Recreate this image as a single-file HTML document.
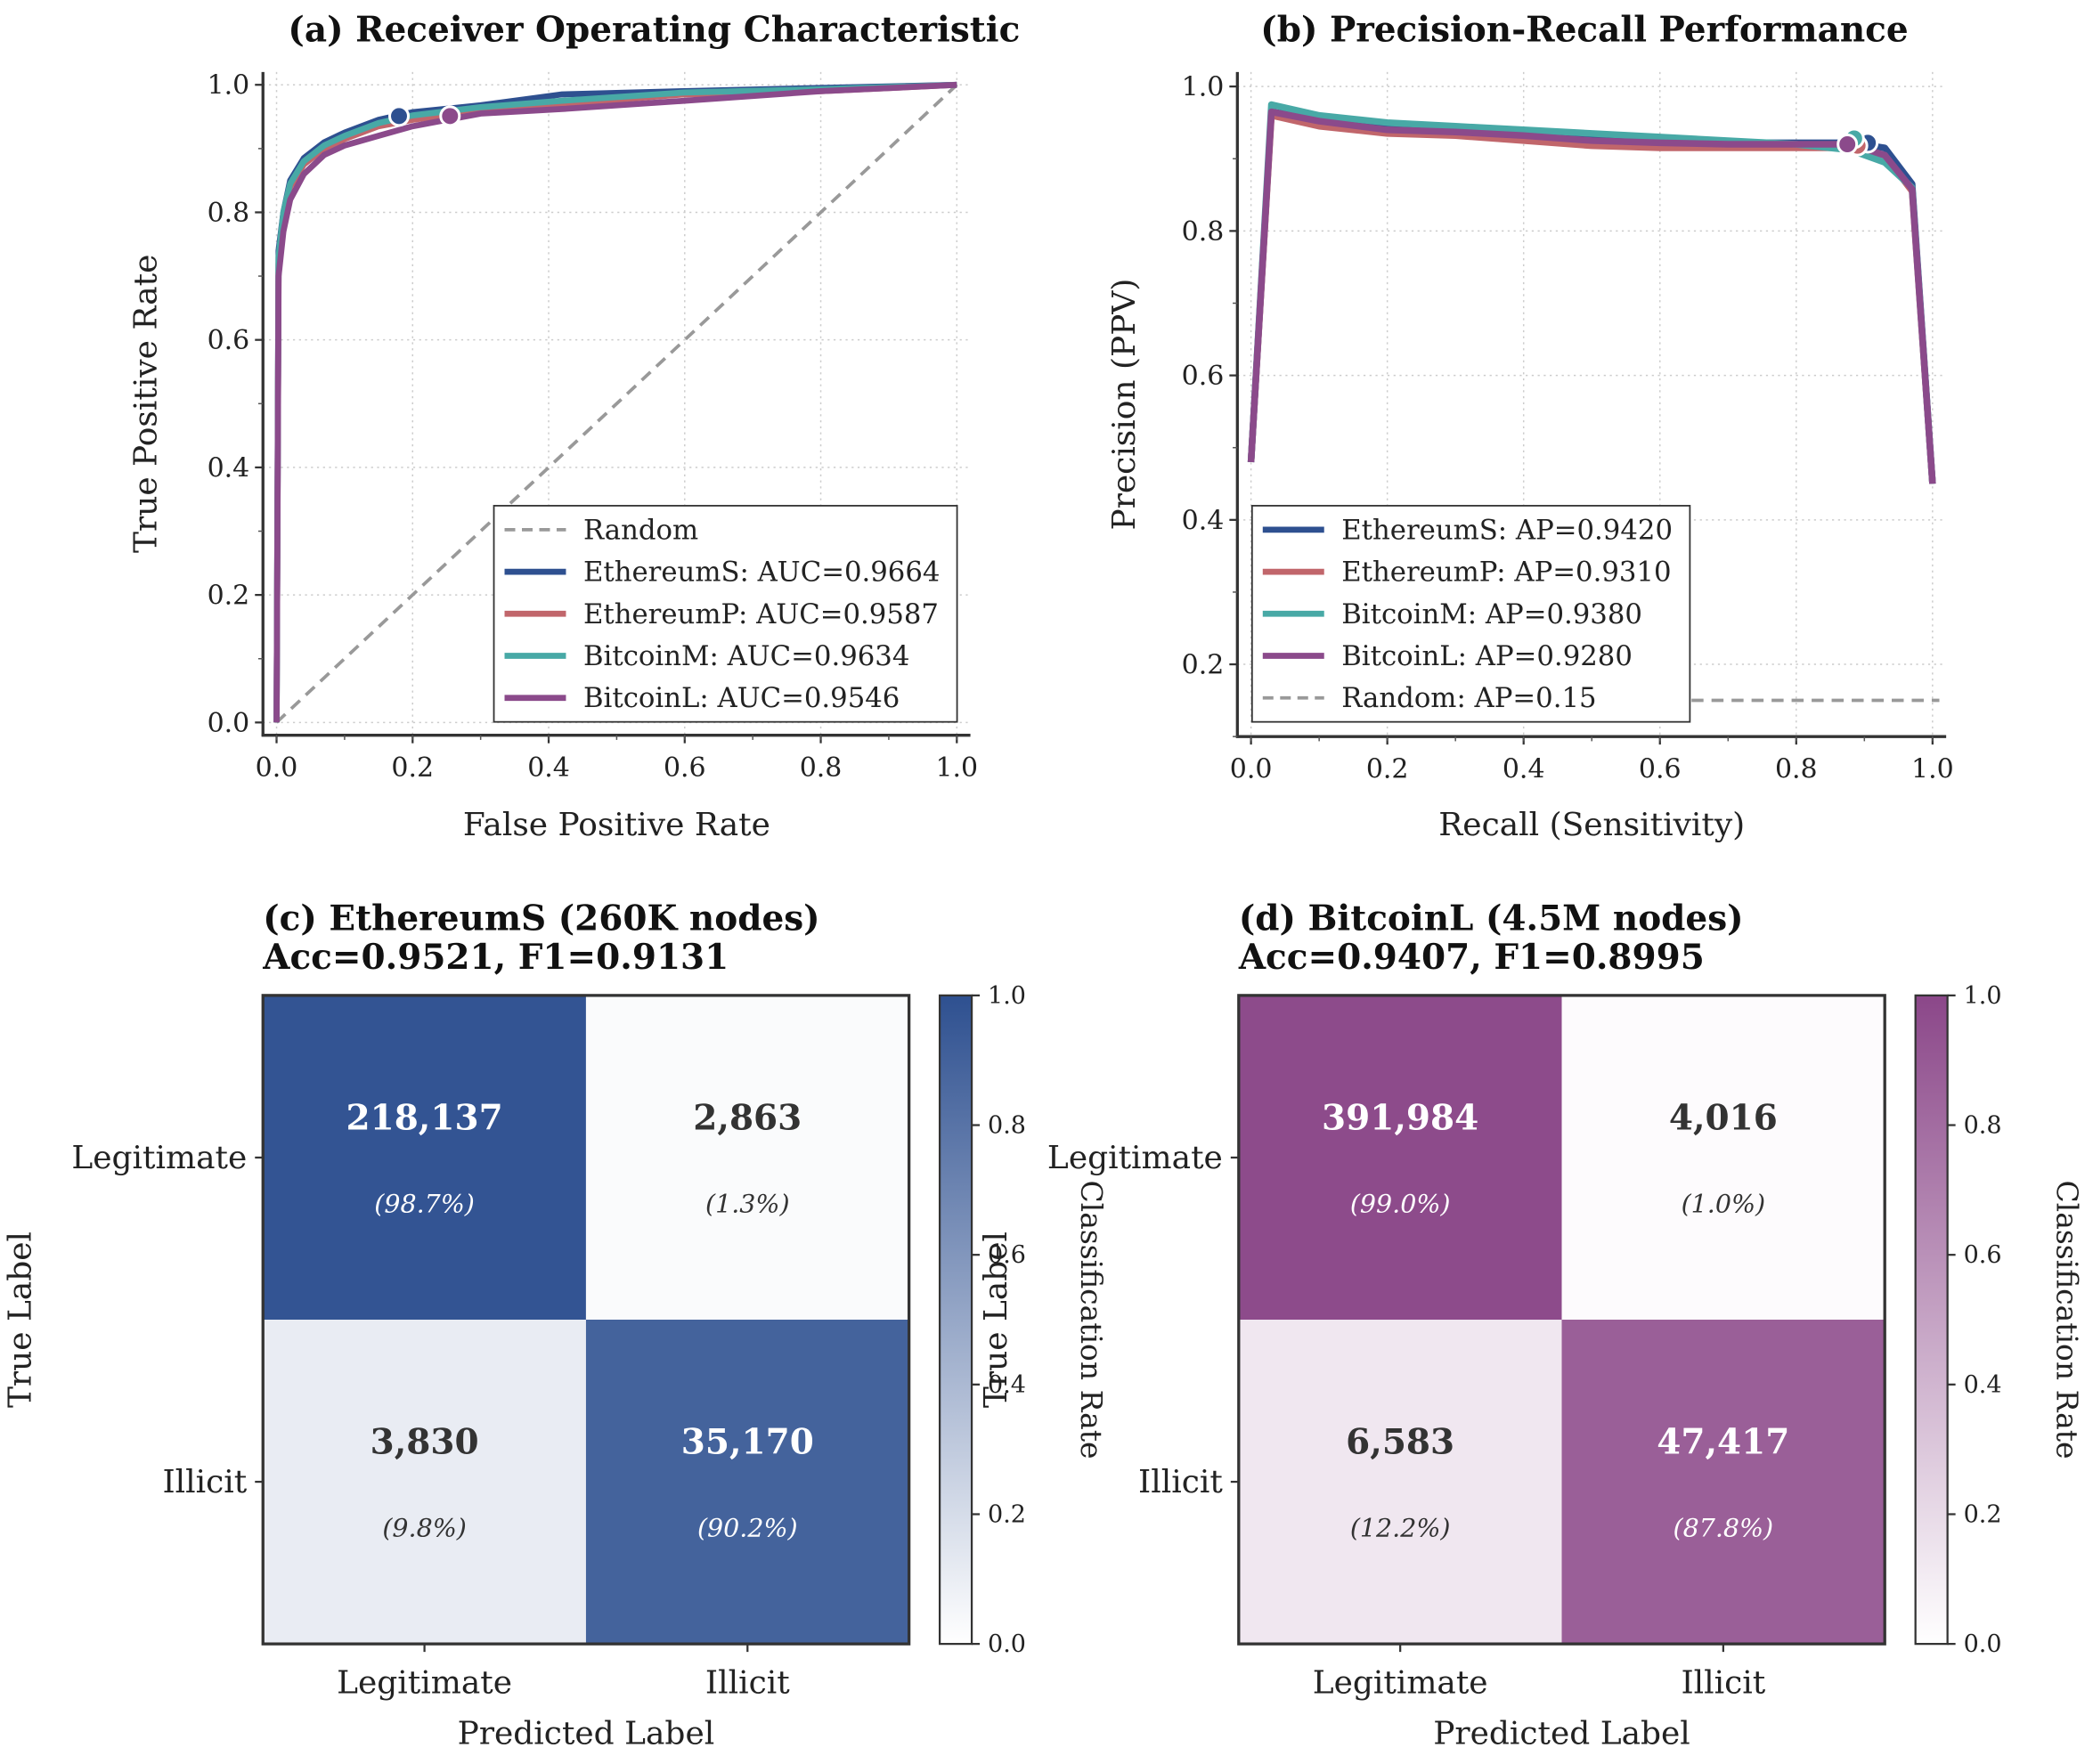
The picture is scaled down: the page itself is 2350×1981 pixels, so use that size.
<!DOCTYPE html>
<html><head><meta charset="utf-8"><style>
html,body{margin:0;padding:0;background:#fff}
svg{display:block;font-family:"DejaVu Serif","Liberation Serif",serif}
</style></head><body>
<svg id="fig" width="2350" height="1981" viewBox="0 0 1568 1322" preserveAspectRatio="none" xmlns="http://www.w3.org/2000/svg">
<rect width="1568" height="1322" fill="#fff"/>
<g id="roc"></g>
<g id="pr"></g>
<g id="cmc"></g>
<g id="cmd"></g>
</svg>
<script>
// ---- data ----
const seriesNames = ["EthereumS","EthereumP","BitcoinM","BitcoinL"];
const seriesColors = ["#2E5090","#C1666B","#48A9A6","#8B4A8B"];
const aucLabels = ["0.9664","0.9587","0.9634","0.9546"];
const apLabels = ["0.9420","0.9310","0.9380","0.9280"];
const rocFpr = [0,0.003,0.01,0.02,0.04,0.07,0.1,0.15,0.2,0.3,0.42,0.6,0.8,1.0];
const rocTprS = [0,0.74,0.80,0.85,0.885,0.91,0.925,0.945,0.957,0.968,0.985,0.99,0.995,1.0];
const rocTprP = [0,0.72,0.79,0.84,0.875,0.90,0.915,0.935,0.945,0.96,0.97,0.985,0.99,1.0];
const rocTprM = [0,0.73,0.80,0.845,0.88,0.905,0.92,0.94,0.952,0.965,0.975,0.988,0.993,1.0];
const rocTprL = [0,0.70,0.77,0.82,0.86,0.89,0.905,0.92,0.935,0.955,0.962,0.975,0.99,1.0];
const rocMarkFpr = [0.18,0.255];
const rocMarkTpr = [0.951,0.951];
const prRecall = [0,0.03,0.1,0.2,0.3,0.4,0.5,0.6,0.7,0.8,0.88,0.93,0.97,1.0];
const prPrecS = [0.48,0.965,0.955,0.945,0.94,0.935,0.93,0.925,0.922,0.922,0.922,0.915,0.865,0.45];
const prPrecP = [0.48,0.96,0.945,0.935,0.932,0.925,0.918,0.915,0.915,0.915,0.915,0.905,0.855,0.45];
const prPrecM = [0.48,0.975,0.96,0.95,0.945,0.94,0.935,0.93,0.925,0.92,0.912,0.895,0.86,0.45];
const prPrecL = [0.48,0.965,0.952,0.94,0.937,0.932,0.925,0.922,0.92,0.92,0.92,0.905,0.858,0.45];
const prMarkRecall = [0.905,0.89,0.885,0.875];
const prMarkPrec = [0.922,0.918,0.928,0.92];
const randomAP = 0.15;
const cmCounts_c = ["218,137","2,863","3,830","35,170"];
const cmRates_c = [0.987,0.013,0.098,0.902];
const cmCounts_d = ["391,984","4,016","6,583","47,417"];
const cmRates_d = [0.990,0.010,0.122,0.878];
const classLabels = ["Legitimate","Illicit"];
const tickVals = [0,0.2,0.4,0.6,0.8,1.0];

const NS="http://www.w3.org/2000/svg";
function mk(parent,tag,attrs,text){const e=document.createElementNS(NS,tag);for(const k in attrs)e.setAttribute(k,attrs[k]);if(text!==undefined)e.textContent=text;parent.appendChild(e);return e;}
const fmt=v=>v.toFixed(1);

function axesPanel(g,L,R,T,B,xmin,xmax,ymin,ymax,yticks,title,titleX,xlabel,ylabel,ylabX){
  const sx=v=>L+(v-xmin)/(xmax-xmin)*(R-L);
  const sy=v=>B-(v-ymin)/(ymax-ymin)*(B-T);
  tickVals.forEach(v=>{const l=mk(g,'line',{x1:sx(v),x2:sx(v),y1:T,y2:B,stroke:'#ccc','stroke-width':1,'stroke-dasharray':'1.5,3'});});
  yticks.forEach(v=>{const l=mk(g,'line',{x1:L,x2:R,y1:sy(v),y2:sy(v),stroke:'#ccc','stroke-width':1,'stroke-dasharray':'1.5,3'});});
  const s1=mk(g,'line',{x1:L,x2:L,y1:T,y2:B+1,stroke:'#333','stroke-width':2.2});
  const s2=mk(g,'line',{x1:L-1,x2:R,y1:B,y2:B,stroke:'#333','stroke-width':2.2});
  tickVals.forEach(v=>{
    mk(g,'line',{x1:sx(v),x2:sx(v),y1:B,y2:B+6,stroke:'#333','stroke-width':1.5});
    const t=mk(g,'text',{x:sx(v),y:B+31,'text-anchor':'middle','font-size':20,fill:'#222'},fmt(v));
    
  });
  for(let i=0;i<=10;i++){const v=i/10;if(v>=xmin&&v<=xmax)mk(g,'line',{x1:sx(v),x2:sx(v),y1:B,y2:B+3.5,stroke:'#555','stroke-width':1});}
  for(let i=0;i<=10;i++){const v=i/10;if(v>=ymin&&v<=ymax)mk(g,'line',{x1:L,x2:L-3.5,y1:sy(v),y2:sy(v),stroke:'#555','stroke-width':1});}
  yticks.forEach(v=>{
    mk(g,'line',{x1:L,x2:L-6,y1:sy(v),y2:sy(v),stroke:'#333','stroke-width':1.5});
    const t=mk(g,'text',{x:L-10,y:sy(v)+7,'text-anchor':'end','font-size':20,fill:'#222'},fmt(v));
    
  });
  const tt=mk(g,'text',{x:titleX,y:31,'text-anchor':'middle','font-size':26,'font-weight':'bold',fill:'#111'},title);
  
  const xl=mk(g,'text',{x:(L+R)/2,y:626,'text-anchor':'middle','font-size':24,fill:'#222'},xlabel);
  
  const yl=mk(g,'text',{x:ylabX,y:(T+B)/2,'text-anchor':'middle','font-size':24,fill:'#222',transform:`rotate(-90 ${ylabX} ${(T+B)/2})`},ylabel);
  
  return {sx,sy};
}
function line(g,xs,ys,sx,sy,color,w,dash,name){
  const d=xs.map((x,i)=>(i?'L':'M')+sx(x).toFixed(1)+','+sy(ys[i]).toFixed(1)).join('');
  const p=mk(g,'path',{d:d,fill:'none',stroke:color,'stroke-width':w,'stroke-linejoin':'round'});
  if(dash)p.setAttribute('stroke-dasharray',dash);
  
}
function legend(g,x,y,w,h,items){
  const box=mk(g,'rect',{x:x,y:y,width:w,height:h,fill:'#fff',stroke:'#333','stroke-width':1.2});
  
  items.forEach((it,i)=>{
    const yy=y+18+i*31.5;
    mk(g,'line',{x1:x+8,x2:x+54,y1:yy,y2:yy,stroke:it.c,'stroke-width':it.dash?2.5:4.5,'stroke-dasharray':it.dash||''});
    const t=mk(g,'text',{x:x+67,y:yy+7,'font-size':20.5,fill:'#222'},it.t);
    
  });
}

// ---- ROC ----
(function(){
  const g=document.getElementById('roc');
  const {sx,sy}=axesPanel(g,197,727,54,551,-0.02,1.02,-0.02,1.02,tickVals,'(a) Receiver Operating Characteristic',490,'False Positive Rate','True Positive Rate',117);
  line(g,[0,1],[0,1],sx,sy,'#999',2.5,'9,6','random-diagonal');
  const tprs=[rocTprS,rocTprP,rocTprM,rocTprL];
  tprs.forEach((t,i)=>line(g,rocFpr,t,sx,sy,seriesColors[i],4.5,null,'roc-curve-'+seriesNames[i].toLowerCase()));
  [0,3].forEach((si,j)=>{const c=mk(g,'circle',{cx:sx(rocMarkFpr[j]),cy:sy(rocMarkTpr[j]),r:7,fill:seriesColors[si],stroke:'#fff','stroke-width':2});});
  legend(g,370,379,347,162,[{c:'#999',t:'Random',dash:'8,5'}].concat(seriesNames.map((n,i)=>({c:seriesColors[i],t:n+': AUC='+aucLabels[i]}))));
})();
// ---- PR ----
(function(){
  const g=document.getElementById('pr');
  const {sx,sy}=axesPanel(g,927,1458,54,552,-0.02,1.02,0.1,1.02,[0.2,0.4,0.6,0.8,1.0],'(b) Precision-Recall Performance',1187,'Recall (Sensitivity)','Precision (PPV)',850);
  line(g,[0,1.01],[randomAP,randomAP],sx,sy,'#999',2.5,'9,6','random-baseline');
  const ps=[prPrecS,prPrecP,prPrecM,prPrecL];
  ps.forEach((p,i)=>line(g,prRecall,p,sx,sy,seriesColors[i],5,null,'pr-curve-'+seriesNames[i].toLowerCase()));
  [0,1,2,3].forEach(i=>{const c=mk(g,'circle',{cx:sx(prMarkRecall[i]),cy:sy(prMarkPrec[i]),r:7,fill:seriesColors[i],stroke:'#fff','stroke-width':2});});
  legend(g,938,379,328,162,seriesNames.map((n,i)=>({c:seriesColors[i],t:n+': AP='+apLabels[i]})).concat([{c:'#999',t:'Random: AP='+randomAP.toFixed(2),dash:'8,5'}]));
})();
// ---- confusion matrices ----
function mix(rgb,v){return 'rgb('+rgb.map(c=>Math.round(255+(c-255)*v)).join(',')+')';}
function cm(id,L,title1,title2,counts,rates,rgb,gradId){
  const g=document.getElementById(id);
  const T=746,B=1232,R=L+484,cw=242,ch=243;
  mk(g,'text',{x:L,y:697,'font-size':26,'font-weight':'bold',fill:'#111'},title1);
  mk(g,'text',{x:L,y:726,'font-size':26,'font-weight':'bold',fill:'#111'},title2);
  for(let r=0;r<2;r++)for(let c=0;c<2;c++){
    const k=r*2+c,v=rates[k];
    const cell=mk(g,'rect',{x:L+c*cw,y:T+r*ch,width:cw,height:ch,fill:mix(rgb,v*0.98+0.01)});
    
    const col=v>0.5?'#fff':'#333';
    const cx=L+c*cw+cw/2,cy=T+r*ch+ch/2;
    const t1=mk(g,'text',{x:cx,y:cy-21,'text-anchor':'middle','font-size':26,'font-weight':'bold',fill:col},counts[k]);
    
    const t2=mk(g,'text',{x:cx,y:cy+41,'text-anchor':'middle','font-size':19,'font-style':'italic',fill:col},'('+(v*100).toFixed(1)+'%)');
    
  }
  mk(g,'rect',{x:L,y:T,width:484,height:486,fill:'none',stroke:'#333','stroke-width':2.2});
  classLabels.forEach((lab,i)=>{
    const y=T+i*ch+ch/2;
    mk(g,'line',{x1:L,x2:L-6,y1:y,y2:y,stroke:'#333','stroke-width':1.5});
    mk(g,'text',{x:L-12,y:y+8,'text-anchor':'end','font-size':24,fill:'#222'},lab);
    const x=L+i*cw+cw/2;
    mk(g,'line',{x1:x,x2:x,y1:B,y2:B+6,stroke:'#333','stroke-width':1.5});
    mk(g,'text',{x:x,y:B+37,'text-anchor':'middle','font-size':24,fill:'#222'},lab);
  });
  mk(g,'text',{x:L+242,y:1307,'text-anchor':'middle','font-size':24,fill:'#222'},'Predicted Label');
  const ylx=L-174;
  mk(g,'text',{x:ylx,y:989,'text-anchor':'middle','font-size':24,fill:'#222',transform:`rotate(-90 ${ylx} 989)`},'True Label');
  const defs=mk(g,'defs',{});
  const lg=mk(defs,'linearGradient',{id:gradId,x1:0,y1:1,x2:0,y2:0});
  mk(lg,'stop',{offset:'0','stop-color':mix(rgb,0)});
  mk(lg,'stop',{offset:'1','stop-color':mix(rgb,1)});
  const cbx=R+23;
  const cb=mk(g,'rect',{x:cbx,y:T,width:24,height:486,fill:`url(#${gradId})`,stroke:'#333','stroke-width':1.5});
  
  tickVals.forEach(v=>{const y=B-v*486;mk(g,'line',{x1:cbx+24,x2:cbx+30,y1:y,y2:y,stroke:'#333','stroke-width':1.5});
    mk(g,'text',{x:cbx+36,y:y+6,'font-size':18,fill:'#222'},fmt(v));});
  const clx=cbx+106;
  mk(g,'text',{x:clx,y:989,'text-anchor':'middle','font-size':22,fill:'#222',transform:`rotate(90 ${clx} 989)`},'Classification Rate');
}
cm('cmc',197,'(c) EthereumS (260K nodes)','Acc=0.9521, F1=0.9131',cmCounts_c,cmRates_c,[46,80,144],'gc');
cm('cmd',928,'(d) BitcoinL (4.5M nodes)','Acc=0.9407, F1=0.8995',cmCounts_d,cmRates_d,[139,71,137],'gd');
</script>
</body></html>
